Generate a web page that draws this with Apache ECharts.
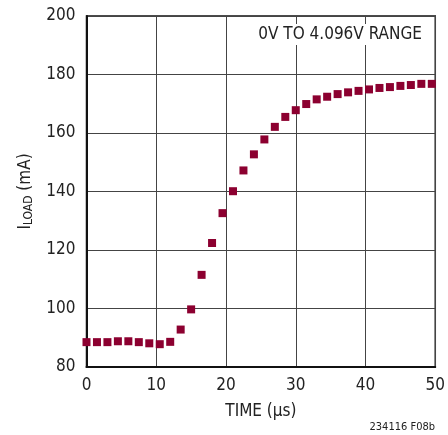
<!DOCTYPE html>
<html>
<head>
<meta charset="utf-8">
<script src="https://cdn.jsdelivr.net/npm/echarts@6/dist/echarts.min.js"></script>
<style>
  html, body { margin: 0; padding: 0; background: #fff; }
  #chart { width: 448px; height: 435px; }
</style>
</head>
<body>
<div id="chart"></div>
<script>
  // time in µs, load current in mA
  var timeUs = [0, 1.5, 3, 4.5, 6, 7.5, 9, 10.5, 12, 13.5, 15, 16.5, 18, 19.5, 21, 22.5, 24,
    25.5, 27, 28.5, 30, 31.5, 33, 34.5, 36, 37.5, 39, 40.5, 42, 43.5, 45, 46.5, 48, 49.5];
  var loadMa = [88.5, 88.5, 88.5, 88.8, 88.8, 88.5, 88.1, 87.8, 88.6, 92.8, 99.7, 111.5, 122.4,
    132.6, 140.1, 147.2, 152.7, 157.8, 162.1, 165.5, 167.8, 169.9, 171.5, 172.4, 173.3, 173.9,
    174.4, 174.9, 175.4, 175.7, 176.1, 176.4, 176.8, 176.8];
  var xTicks = [0, 10, 20, 30, 40, 50];
  var yTicks = [80, 100, 120, 140, 160, 180, 200];

  var font = '"Liberation Sans Narrow", "DejaVu Sans Condensed", "Liberation Sans", sans-serif';
  var pts = timeUs.map(function (t, i) { return [t, loadMa[i]]; });

  var chart = echarts.init(document.getElementById('chart'));
  chart.setOption({
    animation: false,
    grid: {
      left: 86.5, right: 11, top: 16, bottom: 68,
      show: true, borderColor: '#111', borderWidth: 1.5
    },
    xAxis: {
      type: 'value',
      min: xTicks[0], max: xTicks[xTicks.length - 1], interval: 10,
      name: 'TIME (µs)',
      nameLocation: 'middle',
      nameGap: 36,
      nameTextStyle: { fontFamily: font, fontSize: 17, color: '#222' },
      axisLine: { lineStyle: { color: '#111', width: 2 } },
      axisTick: { show: false },
      axisLabel: { fontFamily: font, fontSize: 17, color: '#222', margin: 10 },
      splitLine: { lineStyle: { color: '#444', width: 1 } }
    },
    yAxis: {
      type: 'value',
      min: yTicks[0], max: yTicks[yTicks.length - 1], interval: 20,
      name: '{n|I}{s|LOAD}{n| (mA)}',
      nameLocation: 'middle',
      nameRotate: 90,
      nameGap: 52,
      nameTextStyle: {
        rich: {
          n: { fontFamily: font, fontSize: 17, color: '#222' },
          s: { fontFamily: font, fontSize: 12, color: '#222', verticalAlign: 'bottom', padding: [6, 0, 0, 0] }
        }
      },
      axisLine: { show: true, lineStyle: { color: '#111', width: 2 } },
      axisTick: { show: false },
      axisLabel: { fontFamily: font, fontSize: 17, color: '#222', margin: 11 },
      splitLine: { lineStyle: { color: '#444', width: 1 } }
    },
    graphic: [
      {
        type: 'text',
        right: 22, top: 24,
        z: 10,
        style: {
          text: '0V TO 4.096V RANGE',
          fontFamily: font, fontSize: 17, fill: '#222',
          backgroundColor: '#fff', padding: [2, 4]
        }
      },
      {
        type: 'text',
        right: 13, bottom: 2,
        style: { text: '234116 F08b', fontFamily: font, fontSize: 11, fill: '#222' }
      }
    ],
    series: [{
      type: 'scatter',
      data: pts,
      symbol: 'rect',
      symbolSize: 8,
      itemStyle: { color: '#8c0030', opacity: 1 }
    }]
  });
</script>
</body>
</html>
